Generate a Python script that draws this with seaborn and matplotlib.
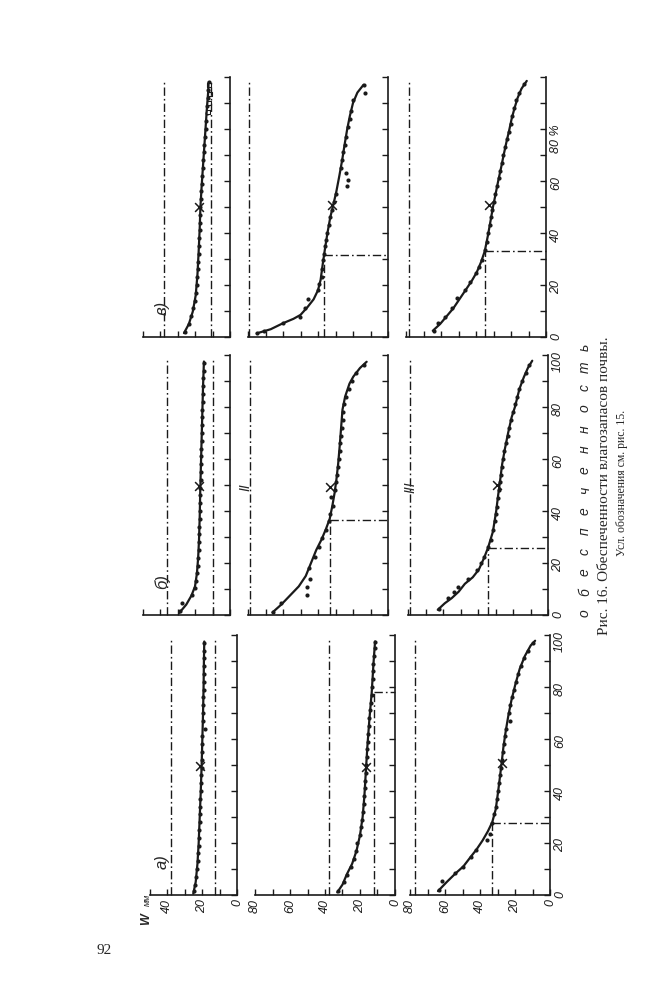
import matplotlib
matplotlib.use("Agg")
import matplotlib.pyplot as plt
import seaborn as sns

# -----------------------------
# DATA: W (mm) against P (обеспеченность, %)
# a = column а), b = б), c = в); 1..3 = rows I..III
# -----------------------------
a1_curve_w = [25.0, 23.6, 22.6, 21.9, 21.3, 20.7, 20.2, 19.8, 19.4, 19.1, 18.9, 18.7]
a1_curve_p = [0.5, 5, 12, 20, 30, 40, 50, 60, 70, 80, 90, 97.5]
a1_dots_p = [1.5, 4, 7, 10, 13, 16, 19, 22, 25, 28, 31, 34, 37, 40, 43, 46, 49, 52, 55,
             58, 61, 64, 67, 70, 73, 76, 79, 82, 85, 88, 91, 94, 97]
a1_dots_w = [24.7, 23.9, 23.3, 22.8, 22.5, 22.2, 22.0, 21.7, 21.6, 21.4, 21.2, 21.0, 20.9,
             20.7, 20.6, 20.4, 20.0, 20.1, 20.0, 19.9, 19.8, 18.4, 19.5, 19.4, 19.3, 19.2,
             19.1, 19.0, 19.0, 18.9, 18.8, 18.7, 18.6]
a1_mark = [21.0, 49.5]
a1_full = [38, 12.6]
a1_drop = []

a2_curve_w = [33, 30, 27.5, 24.5, 22, 20, 18.5, 17.5, 16.7, 15.8, 14.7, 13.3, 12.3, 11.4]
a2_curve_p = [1, 4, 8, 12, 17, 23, 30, 38, 47, 57, 67, 78, 89, 97.5]
a2_dots_p = [1.5, 5, 7.7, 10.9, 14, 17, 20, 23, 26, 29, 32, 35, 38, 41, 44, 47, 50, 53, 56,
             59, 62, 65, 68, 71, 74, 77, 80, 83, 86, 89, 92, 95, 97.5]
a2_dots_w = [32.4, 29.3, 27.6, 25.2, 23.4, 22.0, 21.5, 20.0, 19.2, 18.7, 18.2, 17.9, 17.5,
             17.2, 17.0, 16.7, 16.4, 16.1, 15.9, 15.6, 15.3, 14.9, 14.6, 14.2, 13.8, 13.4,
             13.1, 12.8, 12.6, 12.3, 12.0, 11.7, 11.4]
a2_mark = [16.6, 49.3]
a2_full = [38]
a2_drop = [12.2, 78]

a3_curve_w = [64, 59, 54, 49.5, 45.5, 42, 38.5, 35.5, 33, 31, 29.6, 28.5, 27.6, 26.6, 25.3,
              23.8, 22, 19.8, 17.3, 14.3, 11, 8.5]
a3_curve_p = [1.5, 5, 8.3, 11, 14.5, 17.5, 21, 24.5, 28, 33, 40, 46, 51, 57, 63, 69, 75, 81,
              87, 92, 96, 97.8]
a3_dots_p = [2, 5.5, 8.3, 10.9, 14.5, 17.3, 21, 23.5, 27.6, 31, 34, 37, 40, 43, 46, 49, 52,
             55, 58, 61, 64, 67, 70, 73, 76, 79, 82, 85, 88, 91, 94, 97]
a3_dots_w = [63.5, 62.0, 54.5, 50.0, 45.3, 42.5, 36.2, 34.5, 33.3, 31.8, 30.6, 30.2, 29.6,
             29.0, 28.5, 28.0, 27.5, 27.0, 26.4, 25.8, 25.0, 22.6, 23.6, 22.8, 21.6, 20.6,
             19.4, 18.3, 16.8, 15.0, 12.8, 9.5]
a3_mark = [27.6, 50.6]
a3_full = [77]
a3_drop = [33, 27.6]

b1_curve_w = [29, 25, 22, 20, 18.9, 18.2, 17.7, 17.3, 17, 16.6, 16.2, 15.8, 15.4, 14.9]
b1_curve_p = [0.8, 4, 7.5, 11, 16, 22, 29, 38, 48, 58, 68, 78, 88, 97.5]
b1_dots_p = [1.5, 4.6, 7.7, 10.3, 13, 16, 19, 22, 25, 28, 31, 34, 37, 40, 43, 46, 49, 52, 55,
             58, 61, 64, 67, 70, 73, 76, 79, 82, 85, 88, 91, 94, 97]
b1_dots_w = [28.5, 27.6, 21.6, 20.2, 19.5, 18.9, 18.5, 18.2, 18.0, 17.8, 17.6, 17.5, 17.3,
             17.2, 17.1, 17.0, 16.9, 16.8, 16.7, 16.6, 16.5, 16.4, 16.2, 16.1, 16.0, 15.9,
             15.8, 15.6, 15.5, 15.4, 15.2, 15.1, 14.9]
b1_mark = [17.6, 49.5]
b1_full = [36.2, 10]
b1_drop = []

b2_curve_w = [66, 61, 56, 51, 47, 44, 41, 38, 35.5, 33.3, 31.8, 30.5, 29.5, 28.5, 27.6, 26.8,
              26, 24.5, 22, 19.8, 16, 12.2]
b2_curve_p = [1, 4, 7.5, 11, 15, 20, 25, 29, 33, 37, 42, 47, 52, 58, 65, 72, 79, 84, 89,
              91.7, 95, 97.4]
b2_dots_p = [1.3, 4.5, 7.7, 10.9, 14, 18, 22.4, 26, 29.5, 32.7, 36, 39, 42, 45.5, 48, 51, 54,
             57, 60, 63, 66, 69, 72, 75, 78, 81, 84, 87, 90, 93, 96]
b2_dots_w = [65.9, 61.3, 46.5, 46.5, 44.6, 45.0, 41.7, 39.5, 37.5, 35.5, 33.6, 33.1, 31.5,
             32.4, 30.1, 29.5, 29.0, 28.4, 28.1, 27.7, 27.3, 26.9, 26.5, 26.0, 25.5, 25.0,
             24.0, 22.5, 20.8, 18.3, 14.0]
b2_mark = [33.1, 49.3]
b2_full = [79]
b2_drop = [33, 36.5]

b3_curve_w = [63, 59, 55, 51, 47.5, 43, 39.5, 36.5, 34.2, 31.5, 29.6, 28.5, 27.5, 26.2, 24.6,
              22.8, 20.8, 18.9, 16.3, 13.8, 11.5, 9]
b3_curve_p = [2, 4.5, 6.5, 9, 12, 14.5, 17.5, 22, 26, 32, 40, 46, 51, 58, 64, 70, 76, 80, 87,
              91.5, 95, 97.8]
b3_dots_p = [2.2, 6.4, 9, 10.9, 14, 17.3, 20, 22.4, 26, 29, 32.7, 36, 39, 41.7, 45, 48, 51,
             54, 57, 60, 63, 66, 69, 72, 75, 78, 81, 84, 87, 90, 93, 96]
b3_dots_w = [62.5, 57.0, 53.5, 51.3, 45.5, 40.5, 38.4, 36.3, 34.3, 32.8, 31.4, 30.5, 29.8,
             29.3, 28.7, 28.1, 27.5, 27.0, 26.4, 25.8, 24.9, 24.1, 23.1, 22.2, 21.1, 20.0,
             18.6, 17.5, 16.3, 14.6, 12.8, 10.6]
b3_mark = [29.0, 50]
b3_full = [79]
b3_drop = [34.2, 25.6]

c1_curve_w = [26.3, 23.5, 21.3, 19.6, 18.6, 17.9, 17.3, 16.9, 16.2, 15.4, 14.6, 13.8, 13.2,
              12.5, 12.2]
c1_curve_p = [1.5, 5, 9.7, 16, 24, 33, 42, 50, 58, 66, 74, 82, 88, 94, 98]
c1_dots_p = [2, 5, 8, 11, 14, 17, 20, 23, 26, 29, 32, 35, 38, 41, 44, 47, 50, 53, 56, 59, 62,
             65, 68, 71, 74, 77, 80, 83, 86, 89, 92, 95, 98]
c1_dots_w = [25.9, 23.7, 22.1, 21.0, 20.1, 19.5, 19.1, 18.7, 18.4, 18.2, 18.0, 17.8, 17.6,
             17.4, 17.2, 17.0, 17.3, 16.7, 16.4, 16.1, 15.8, 15.5, 15.2, 14.9, 14.6, 14.3,
             14.0, 13.7, 13.4, 13.1, 12.8, 12.4, 12.2]
c1_sq_w = [11.8, 11.5, 11.9, 12.3]
c1_sq_p = [97, 93.5, 90, 86.5]
c1_mark = [17.5, 50]
c1_full = [37.7, 11]
c1_drop = []

c2_curve_w = [75, 67, 60, 54, 50, 46, 42.5, 40, 38.5, 37.3, 36, 34.6, 33, 31.2, 29.5, 27.8,
              26.2, 24.8, 23.3, 21.8, 20, 17.5, 14]
c2_curve_p = [1.4, 3, 5.3, 7, 8.5, 11.5, 14.5, 18, 22, 28, 34, 40, 46, 51, 56, 62, 68, 74,
              80, 85, 90, 94, 97]
c2_dots_p = [1.4, 2.5, 5.3, 7.8, 11, 14.5, 18, 20.5, 23.2, 26, 29.6, 32, 35, 37.3, 40, 43,
             46.3, 49, 52, 55, 58, 60.5, 63, 65, 68, 71, 74, 77, 80.9, 84, 87, 91, 93.7, 97]
c2_dots_w = [75.0, 71.0, 59.8, 50.3, 47.4, 45.5, 39.8, 39.5, 37.9, 37.8, 37.0, 36.6, 35.8,
             35.4, 34.6, 34.0, 33.1, 32.0, 30.9, 29.8, 23.6, 23.0, 24.0, 27.0, 26.2, 25.5,
             24.8, 24.0, 22.7, 22.0, 21.0, 19.8, 13.1, 14.0]
c2_mark = [32.2, 50.8]
c2_full = [79.5]
c2_drop = [36.5, 31.5]

c3_curve_w = [64.7, 60.5, 57, 53, 49.5, 46, 42.5, 39.5, 37, 35, 33.2, 31.6, 30.3, 28.8, 27.2,
              25.7, 24.2, 22.6, 21.2, 19.6, 18, 16.2, 14, 11]
c3_curve_p = [2.4, 5, 7.8, 11, 14.5, 18, 21.5, 25, 29, 33, 39, 45, 50, 55, 60.4, 65, 70, 75,
              79, 84, 88, 92, 95.5, 98.5]
c3_dots_p = [2.4, 5.3, 7.8, 11, 14.9, 18, 21.3, 24.5, 27, 29.6, 33.6, 36.5, 39.9, 43, 46.3,
             49, 52, 55, 58, 61, 64, 67, 70, 73, 76, 79, 82, 85, 88, 91, 94, 97.5]
c3_dots_w = [64.2, 61.5, 57.5, 53.5, 51.0, 46.5, 43.4, 40.0, 38.3, 36.8, 35.0, 34.0, 33.0,
             32.2, 31.3, 30.7, 29.8, 28.9, 28.0, 27.0, 26.2, 25.2, 24.4, 23.4, 22.3, 21.3,
             20.2, 19.3, 18.2, 16.9, 15.2, 12.5]
c3_mark = [32.4, 50.8]
c3_full = [78.5]
c3_drop = [35, 33.2]

p_ticks_ab = [0, 20, 40, 60, 80, 100]
p_labels_ab = ["0", "20", "40", "60", "80", "100"]
p_ticks_c = [0, 20, 40, 60, 80]
p_labels_c = ["0", "20", "40", "60", "80 %"]
w_labels_row1 = ["0", "20", "40"]
w_labels_row23 = ["0", "20", "40", "60", "80"]

caption = "Рис. 16. Обеспеченности влагозапасов почвы."
caption_note = "Усл. обозначения см. рис. 15."
axis_word = "обеспеченность"
panel_letters = ["а)", "б)", "в)"]
row_numerals = ["II", "III"]

# -----------------------------
# LAYOUT (page pixels, the figure is printed turned by 90 degrees)
# -----------------------------
FIG_W, FIG_H = 646, 1000
PX_W = 1.75   # px per mm
PX_P = 2.6    # px per %
col_bottom = {"a": 895, "b": 615, "c": 337}
row_right = {("a", 1): 237, ("a", 2): 395, ("a", 3): 550,
             ("b", 1): 230, ("b", 2): 388, ("b", 3): 548,
             ("c", 1): 230, ("c", 2): 388, ("c", 3): 546}
DASHDOT = (0, (6, 2.2, 1.2, 2.2))

sns.set_theme(style="white")
plt.rcParams["font.family"] = ["Liberation Sans", "DejaVu Sans"]
plt.rcParams["font.style"] = "italic"

fig = plt.figure(figsize=(FIG_W / 100, FIG_H / 100), dpi=100)
fig.patch.set_facecolor("white")


def fx(x):
    return x / FIG_W


def fy(y):
    return 1 - y / FIG_H


def add_panel(col, row, curve_w, curve_p, dots_w, dots_p, mark, full, drop,
              sq_w=None, sq_p=None):
    wmax = 50 if row == 1 else 80
    x0 = row_right[(col, row)]
    yb = col_bottom[col]
    ax = fig.add_axes([fx(x0 - wmax * PX_W), fy(yb), wmax * PX_W / FIG_W, 100 * PX_P / FIG_H])
    ax.set_facecolor("none")

    for w in full:
        ax.plot([w, w], [0, 98], color="k", lw=1.0, ls=DASHDOT, clip_on=False)
    if drop:
        ax.plot([drop[0], drop[0]], [0, drop[1]], color="k", lw=1.0, ls=DASHDOT, clip_on=False)
        ax.plot([drop[0], 0], [drop[1], drop[1]], color="k", lw=1.0, ls=DASHDOT, clip_on=False)

    sns.lineplot(x=curve_w, y=curve_p, sort=False, estimator=None, color="k", lw=1.6, ax=ax)
    sns.scatterplot(x=dots_w, y=dots_p, color="k", s=9, linewidth=0, ax=ax, clip_on=False)
    sns.scatterplot(x=[mark[0]], y=[mark[1]], marker="x", color="k", s=40, linewidth=1.1, ax=ax)
    if sq_w:
        sns.scatterplot(x=sq_w, y=sq_p, marker="s", facecolor="white", edgecolor="k",
                        s=12, linewidth=0.8, ax=ax)

    ax.set_xlim(wmax, 0)
    ax.set_ylim(0, 100)
    ax.set_xlabel("")
    ax.set_ylabel("")
    for side in ["top", "left"]:
        ax.spines[side].set_visible(False)
    for side in ["bottom", "right"]:
        ax.spines[side].set_color("k")
        ax.spines[side].set_linewidth(1.2)
    ax.yaxis.tick_right()

    xt = list(range(0, wmax + 1, 10))
    ax.set_xticks(xt)
    labels_w = w_labels_row1 if row == 1 else w_labels_row23
    ax.set_xticklabels([str(t) if str(t) in labels_w else "" for t in xt])
    yt = list(range(0, 101, 10))
    ax.set_yticks(yt)
    if col == "c":
        lab = {t: l for t, l in zip(p_ticks_c, p_labels_c)}
    else:
        lab = {t: l for t, l in zip(p_ticks_ab, p_labels_ab)}
    ax.set_yticklabels([lab.get(t, "") for t in yt])

    ax.tick_params(axis="both", direction="in", length=4, width=1.0, color="k",
                   labelsize=9, labelcolor="k", labelrotation=90, pad=3)
    ax.tick_params(axis="x", labelbottom=(col == "a"), bottom=True)
    ax.tick_params(axis="y", labelright=(row == 3), right=True, left=False, labelleft=False)
    for t in ax.get_xticklabels() + ax.get_yticklabels():
        t.set_fontstyle("italic")
    return ax


add_panel("a", 1, a1_curve_w, a1_curve_p, a1_dots_w, a1_dots_p, a1_mark, a1_full, a1_drop)
add_panel("a", 2, a2_curve_w, a2_curve_p, a2_dots_w, a2_dots_p, a2_mark, a2_full, a2_drop)
add_panel("a", 3, a3_curve_w, a3_curve_p, a3_dots_w, a3_dots_p, a3_mark, a3_full, a3_drop)
add_panel("b", 1, b1_curve_w, b1_curve_p, b1_dots_w, b1_dots_p, b1_mark, b1_full, b1_drop)
add_panel("b", 2, b2_curve_w, b2_curve_p, b2_dots_w, b2_dots_p, b2_mark, b2_full, b2_drop)
add_panel("b", 3, b3_curve_w, b3_curve_p, b3_dots_w, b3_dots_p, b3_mark, b3_full, b3_drop)
add_panel("c", 1, c1_curve_w, c1_curve_p, c1_dots_w, c1_dots_p, c1_mark, c1_full, c1_drop,
          c1_sq_w, c1_sq_p)
add_panel("c", 2, c2_curve_w, c2_curve_p, c2_dots_w, c2_dots_p, c2_mark, c2_full, c2_drop)
add_panel("c", 3, c3_curve_w, c3_curve_p, c3_dots_w, c3_dots_p, c3_mark, c3_full, c3_drop)

# -----------------------------
# TEXTS
# -----------------------------
for letter, (x, y) in zip(panel_letters, [(162, 862), (162, 582), (162, 308)]):
    fig.text(fx(x), fy(y), letter, rotation=90, ha="center", va="center", fontsize=12)
for num, (x, y) in zip(row_numerals, [(245, 487), (410, 487)]):
    fig.text(fx(x), fy(y), num, rotation=90, ha="center", va="center", fontsize=10)

fig.text(fx(146), fy(919), "W", rotation=90, ha="center", va="center",
         fontsize=9, fontweight="bold")
fig.text(fx(147), fy(900), "мм", rotation=90, ha="center", va="center", fontsize=6.5)

# spaced italic word under the probability axis
n = len(axis_word)
for i, ch in enumerate(axis_word):
    y = 613 - i * (613 - 347) / (n - 1)
    fig.text(fx(585), fy(y), ch, rotation=90, ha="center", va="center", fontsize=10)

fig.text(fx(605), fy(486), caption, rotation=90, ha="center", va="center",
         fontsize=11, family=["Liberation Serif", "DejaVu Serif"], fontstyle="normal")
fig.text(fx(622), fy(483), caption_note, rotation=90, ha="center", va="center",
         fontsize=8.5, family=["Liberation Serif", "DejaVu Serif"], fontstyle="normal")
fig.text(fx(104), fy(951), "92", ha="center", va="center",
         fontsize=11, family=["Liberation Serif", "DejaVu Serif"], fontstyle="normal")

fig.savefig("out.png", dpi=100, facecolor="white")
